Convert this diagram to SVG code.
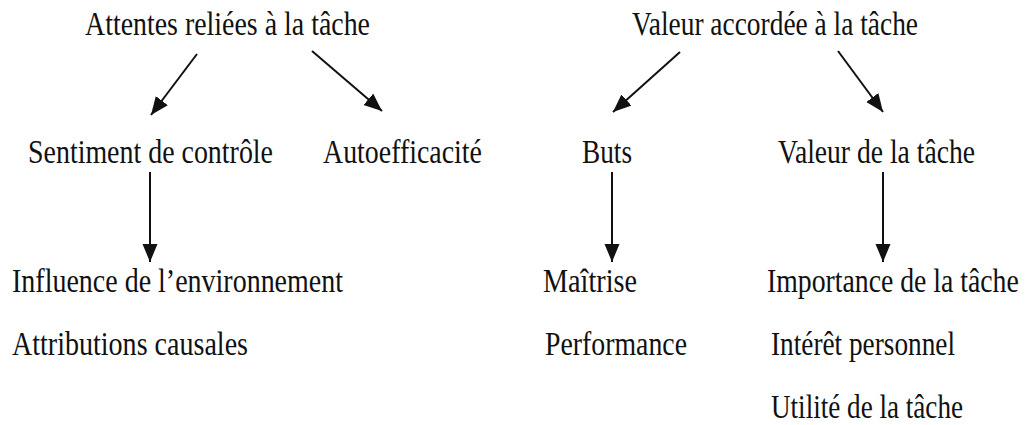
<svg xmlns="http://www.w3.org/2000/svg" width="1027" height="425" viewBox="0 0 1027 425">
<style>
text{font-family:"Liberation Serif","Times New Roman",serif;font-size:34px;fill:#111}
.c line{stroke:#111;stroke-width:2;fill:none;marker-end:url(#ah)}
</style>
<defs>
<marker id="ah" markerUnits="userSpaceOnUse" markerWidth="19" markerHeight="16" refX="18" refY="7.5" orient="auto">
<path d="M0,0 L18,7.5 L0,15 Z" fill="#111"/>
</marker>
</defs>
<rect width="1027" height="425" fill="#fff"/>
<g class="c" id="connectors">
<line x1="197" y1="54" x2="151" y2="115"/>
<line x1="312" y1="51" x2="382" y2="111"/>
<line x1="150" y1="172" x2="150" y2="262"/>
<line x1="680" y1="52" x2="613" y2="112"/>
<line x1="838" y1="51" x2="883" y2="112"/>
<line x1="612" y1="172" x2="612" y2="262"/>
<line x1="883" y1="172" x2="883" y2="262"/>
</g>
<g id="n-attentes"><text x="85" y="35" textLength="285" lengthAdjust="spacingAndGlyphs">Attentes reliées à la tâche</text></g>
<g id="n-valeur"><text x="632" y="35" textLength="286" lengthAdjust="spacingAndGlyphs">Valeur accordée à la tâche</text></g>
<g id="n-sentiment"><text x="28" y="163" textLength="245" lengthAdjust="spacingAndGlyphs">Sentiment de contrôle</text></g>
<g id="n-autoeff"><text x="323" y="163" textLength="159" lengthAdjust="spacingAndGlyphs">Autoefficacité</text></g>
<g id="n-buts"><text x="582" y="163" textLength="50" lengthAdjust="spacingAndGlyphs">Buts</text></g>
<g id="n-valtache"><text x="778" y="163" textLength="197" lengthAdjust="spacingAndGlyphs">Valeur de la tâche</text></g>
<g id="n-sentiment-list">
<text x="12" y="292" textLength="331" lengthAdjust="spacingAndGlyphs">Influence de l’environnement</text>
<text x="12" y="355" textLength="236" lengthAdjust="spacingAndGlyphs">Attributions causales</text>
</g>
<g id="n-buts-list">
<text x="543" y="292" textLength="94" lengthAdjust="spacingAndGlyphs">Maîtrise</text>
<text x="545" y="355" textLength="142" lengthAdjust="spacingAndGlyphs">Performance</text>
</g>
<g id="n-valtache-list">
<text transform="translate(767,292) scale(0.8163,1)">Importance de la tâche</text>
<text x="771" y="355" textLength="184" lengthAdjust="spacingAndGlyphs">Intérêt personnel</text>
<text x="771" y="418" textLength="192" lengthAdjust="spacingAndGlyphs">Utilité de la tâche</text>
</g>
</svg>
